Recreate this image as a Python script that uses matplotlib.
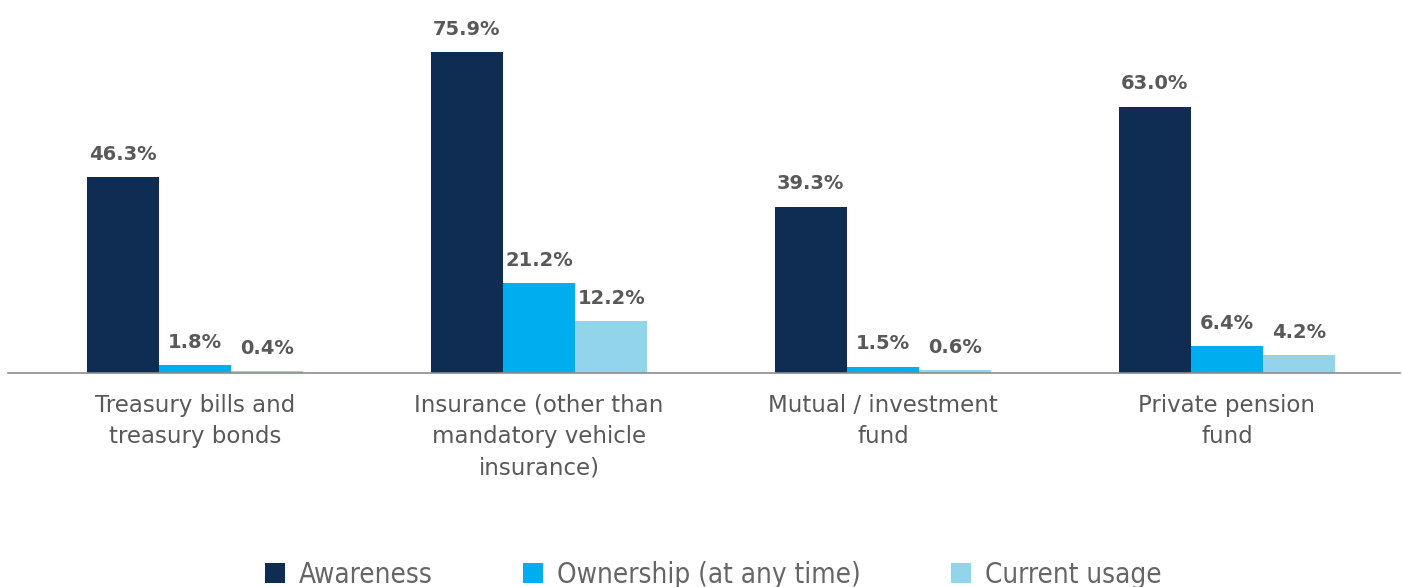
import matplotlib
matplotlib.use("Agg")
import matplotlib.pyplot as plt
import numpy as np

categories = ["Treasury bills and\ntreasury bonds",
              "Insurance (other than\nmandatory vehicle\ninsurance)",
              "Mutual / investment\nfund",
              "Private pension\nfund"]
series_names = ["Awareness", "Ownership (at any time)", "Current usage"]
awareness = [46.3, 75.9, 39.3, 63.0]
ownership = [1.8, 21.2, 1.5, 6.4]
current_usage = [0.4, 12.2, 0.6, 4.2]
colors = ["#0f2d52", "#00aeef", "#92d5ea"]

fig = plt.figure(figsize=(14.02, 5.87), dpi=100)
ax = fig.add_axes([8/1402, (587-373)/587, (1400-8)/1402, (373-20)/587])

x = np.arange(len(categories))
w = 0.21
text_color = "#595959"
for i, (vals, c) in enumerate(zip([awareness, ownership, current_usage], colors)):
    pos = x + (i - 1) * w
    bars = ax.bar(pos, vals, width=w, color=c, label=series_names[i], zorder=2)
    for b, v in zip(bars, vals):
        ax.annotate(f"{v:.1f}%", (b.get_x() + b.get_width() / 2, v),
                    xytext=(0, 12.5), textcoords="offset points",
                    ha="center", va="baseline", fontsize=14, fontweight="bold",
                    color=text_color, family="DejaVu Sans")

ax.set_xlim(-0.544, 3.503)
ax.set_ylim(0, 83.5)
for s in ["top", "right", "left"]:
    ax.spines[s].set_visible(False)
ax.spines["bottom"].set_color("#8c8c8c")
ax.spines["bottom"].set_linewidth(1.2)
ax.set_yticks([])
ax.set_xticks(x)
ax.set_xticklabels(categories, fontsize=16.5, color=text_color, family="DejaVu Sans",
                   linespacing=1.45)
ax.tick_params(axis="x", length=0, pad=15)

leg = fig.legend(loc="center", bbox_to_anchor=(0.509, (587-575)/587), ncol=3,
                 frameon=False, handlelength=0.72, handleheight=0.72,
                 handletextpad=0.5, columnspacing=3.25,
                 prop={"family": "DejaVu Sans", "size": 20, "stretch": "condensed"})
for t in leg.get_texts():
    t.set_color("#666666")

fig.savefig("out.png", dpi=100)
